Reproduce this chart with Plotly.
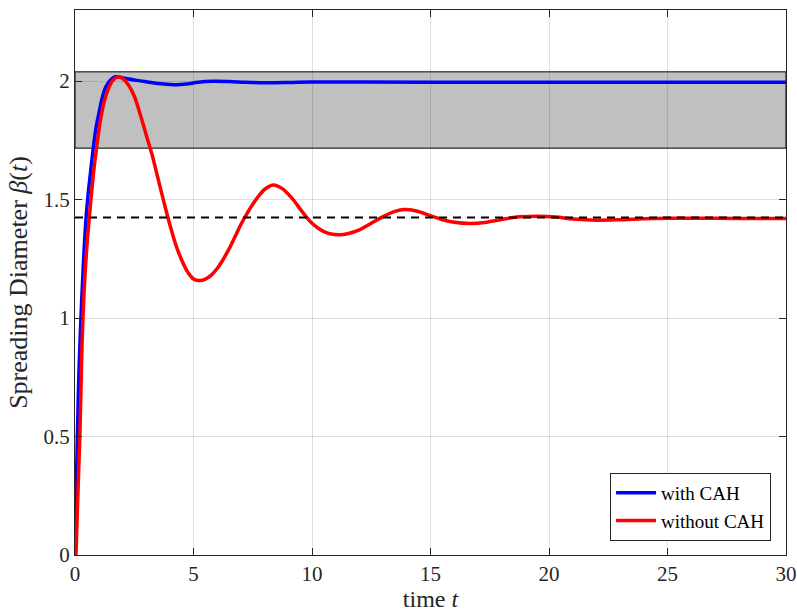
import plotly.graph_objects as go

# Spreading diameter history, with and without contact-angle hysteresis (CAH)
t_with = [0, 0.05, 0.1, 0.17, 0.25, 0.35, 0.45, 0.55, 0.65, 0.77, 0.9, 1.0, 1.15, 1.3, 1.5,
          1.7, 1.9, 2.2, 2.6, 3.0, 3.5, 4.0, 4.3, 4.7, 5.2, 5.8, 6.5, 7.2, 8.0, 9.0, 10, 12,
          15, 20, 25, 30]
beta_with = [0, 0.25, 0.5, 0.78, 1.0, 1.22, 1.40, 1.52, 1.61, 1.717, 1.81, 1.86, 1.93, 1.975, 2.005,
             2.018, 2.016, 2.01, 2.003, 1.997, 1.99, 1.986, 1.985, 1.988, 1.995, 1.999, 1.998, 1.995,
             1.993, 1.994, 1.996, 1.996, 1.995, 1.995, 1.995, 1.995]

t_without = [0.04, 0.12, 0.21, 0.3, 0.4, 0.5, 0.6, 0.7, 0.8, 0.9, 1.0, 1.1, 1.25, 1.4, 1.6, 1.83,
             2.0, 2.25, 2.5, 2.75, 3.0, 3.25, 3.5, 3.75, 4.0, 4.25, 4.5, 4.75, 5.0, 5.25, 5.5,
             5.75, 6.0, 6.25, 6.5, 6.75, 7.0, 7.25, 7.5, 7.75, 8.0, 8.2, 8.35, 8.55, 8.75, 9.0,
             9.25, 9.5, 9.75, 10.0, 10.25, 10.5, 10.75, 11.17, 11.5, 12.0, 12.5, 13.0, 13.5, 13.9,
             14.4, 15.0, 15.5, 16.0, 16.66, 17.3, 18.0, 18.75, 19.6, 20.3, 21.0, 22.0, 23.0, 24.0,
             25.0, 26.5, 28.0, 30.0]
beta_without = [0, 0.25, 0.52, 0.9, 1.14, 1.30, 1.42, 1.53, 1.63, 1.71, 1.785, 1.85, 1.92, 1.965,
                2.003, 2.018, 2.012, 1.985, 1.937, 1.86, 1.775, 1.69, 1.59, 1.49, 1.395, 1.31, 1.245,
                1.195, 1.165, 1.158, 1.164, 1.181, 1.209, 1.247, 1.292, 1.343, 1.395, 1.44, 1.48,
                1.515, 1.543, 1.556, 1.561, 1.557, 1.546, 1.523, 1.494, 1.46, 1.428, 1.40, 1.38,
                1.365, 1.356, 1.352, 1.356, 1.372, 1.40, 1.428, 1.45, 1.458, 1.452, 1.432, 1.415,
                1.404, 1.399, 1.403, 1.416, 1.427, 1.430, 1.426, 1.418, 1.413, 1.415, 1.419, 1.421,
                1.421, 1.42, 1.42]

beta_reference = 1.424              # dashed equilibrium level
band_low, band_high = 1.717, 2.039  # shaded range

x_ticks = [0, 5, 10, 15, 20, 25, 30]
y_ticks = [0, 0.5, 1, 1.5, 2]
y_tick_text = ["0", "0.5", "1", "1.5", "2"]

font_family = "Liberation Serif"
ink = "#262626"

fig = go.Figure()

fig.add_trace(go.Scatter(
    x=t_with, y=beta_with, mode="lines", name="with CAH",
    line=dict(color="#0000ff", width=3.5, shape="spline", smoothing=1.0),
))
fig.add_trace(go.Scatter(
    x=t_without, y=beta_without, mode="lines", name="without CAH",
    line=dict(color="#ff0000", width=3.5, shape="spline", smoothing=1.0),
))
fig.add_trace(go.Scatter(
    x=[x_ticks[0], x_ticks[-1]], y=[beta_reference, beta_reference], mode="lines",
    showlegend=False, hoverinfo="skip",
    line=dict(color="black", width=2, dash="8px,6px"),
))

fig.add_shape(
    type="rect", xref="x", yref="y", x0=x_ticks[0], x1=x_ticks[-1], y0=band_low, y1=band_high,
    fillcolor="#c0c0c0", line=dict(color="black", width=1), layer="below",
)

axis_common = dict(
    showline=True, linecolor=ink, linewidth=1, mirror="ticks",
    ticks="inside", ticklen=7, tickcolor=ink,
    showgrid=True, gridcolor="rgba(38,38,38,0.15)", gridwidth=1, zeroline=False,
    tickfont=dict(family=font_family, size=21, color=ink),
    automargin=False,
)

fig.update_xaxes(
    range=[0, 30], tickvals=x_ticks, ticktext=[str(v) for v in x_ticks],
    title=dict(text="time <i>t</i>", font=dict(family=font_family, size=24, color=ink), standoff=6),
    **axis_common,
)
fig.update_yaxes(
    range=[0, 2.3], tickvals=y_ticks, ticktext=y_tick_text,
    title=dict(text="Spreading Diameter <i>β</i>(<i>t</i>)",
               font=dict(family=font_family, size=26, color=ink), standoff=8),
    **axis_common,
)

fig.update_layout(
    width=797, height=612,
    margin=dict(l=75, r=11, t=10, b=57),
    paper_bgcolor="white", plot_bgcolor="white",
    font=dict(family=font_family, color=ink),
    legend=dict(
        x=0.979, y=0.026, xanchor="right", yanchor="bottom",
        bgcolor="white", bordercolor=ink, borderwidth=1,
        font=dict(family=font_family, size=19, color="black"),
        tracegroupgap=0, itemwidth=40,
    ),
)

fig.write_html("out.html")
